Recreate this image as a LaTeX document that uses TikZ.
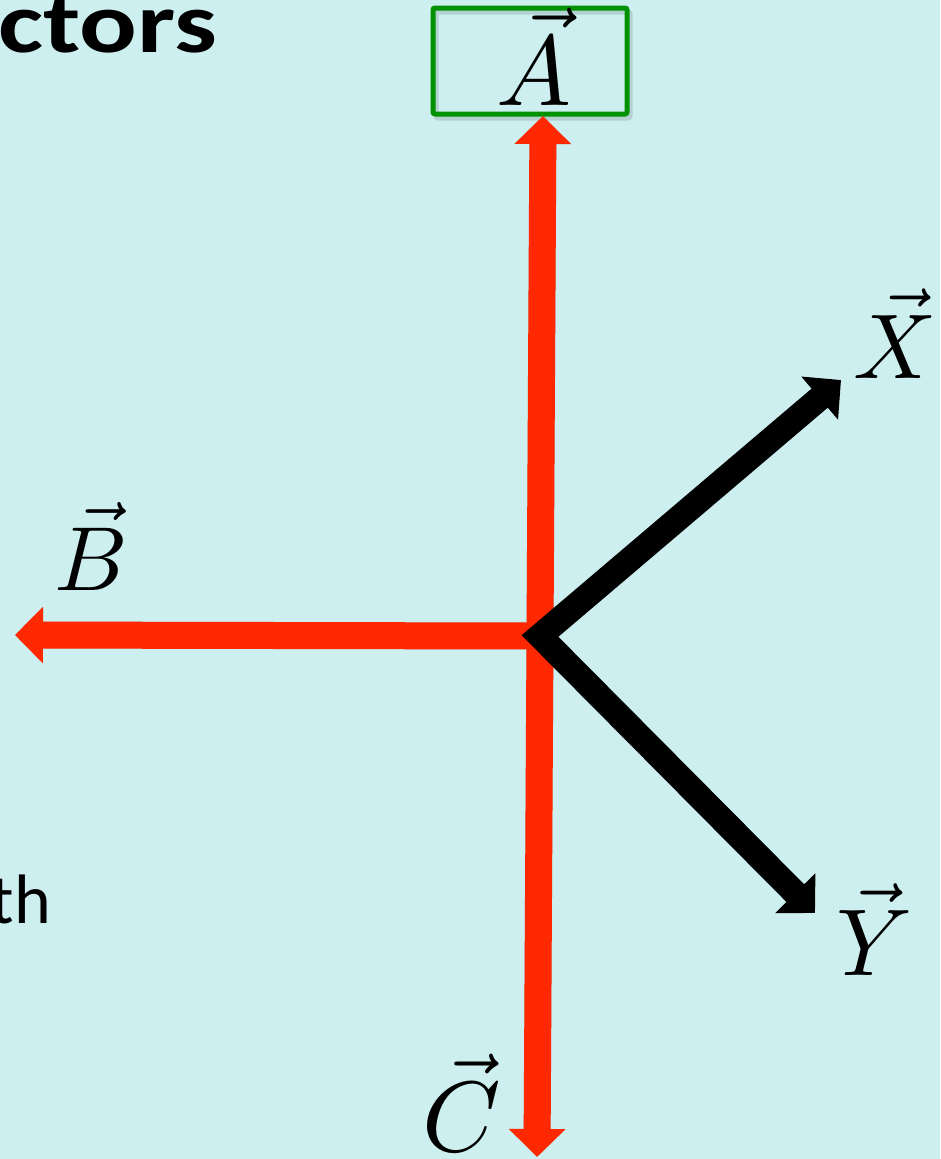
\documentclass[tikz,border=0pt]{standalone}
\usepackage{fontspec}
\newfontfamily\carlito{Carlito}
\usetikzlibrary{arrows.meta}
\definecolor{bgcyan}{RGB}{206,239,240}
\definecolor{vecred}{RGB}{255,40,0}
\definecolor{boxgreen}{RGB}{0,146,0}
\tikzset{
  redarrow/.style={draw=vecred, line width=27pt, -{Triangle[length=28pt,width=55pt]}},
  blackarrow/.style={draw=black, line width=25pt, line join=miter,
    {Triangle[length=28pt,width=55pt]}-{Triangle[length=28pt,width=55pt]}},
  shadowred/.style={draw=black, opacity=0.12, line width=27pt, -{Triangle[length=28pt,width=55pt]}},
  veclabel/.style={inner sep=0pt, anchor=base west},
}
\begin{document}
\begin{tikzpicture}[x=1pt,y=-1pt]
\fill[bgcyan] (0,0) rectangle (940,1159);
\useasboundingbox (0,0) rectangle (940,1159);
% coordinates
\coordinate (O) at (540,636);
\coordinate (tipA) at (543,116);
\coordinate (tipB) at (15,635);
\coordinate (tipC) at (537,1157);
\coordinate (tipX) at (841,380);
\coordinate (tipY) at (815,913);
% shadows
\begin{scope}[shift={(3,4)}]
\draw[shadowred] (O) -- (tipA);
\draw[shadowred] (O) -- (tipB);
\draw[shadowred] (O) -- (tipC);
\draw[black, opacity=0.12, line width=5pt, rounded corners=2pt] (433,8) rectangle (627,114);
\end{scope}
% box
\node[draw=boxgreen, line width=5pt, rounded corners=2pt, minimum width=194pt, minimum height=106pt, inner sep=0pt] (boxA) at (530,61) {};
% red vectors
\draw[redarrow] (O) -- (tipA);
\draw[redarrow] (O) -- (tipB);
\draw[redarrow] (O) -- (tipC);
% black vectors
\draw[blackarrow] (tipX) -- (O) -- (tipY);
% labels
\node[veclabel, scale=10] (labA) at (494,105) {$\vec{A}$};
\node[veclabel, scale=9.1] (labB) at (53,590) {$\vec{B}$};
\node[veclabel, scale=10] (labC) at (420,1151) {$\vec{C}$};
\node[veclabel, scale=9.2] (labX) at (852,378) {$\vec{X}$};
\node[veclabel, scale=9.5] (labY) at (835,975) {$\vec{Y}$};
% text fragments
\node[inner sep=0pt, anchor=base west, xscale=1.25] (title) at (-2,52) {\carlito\bfseries\fontsize{86}{86}\selectfont ctors};
\node[inner sep=0pt, anchor=base east] (th) at (51,923) {\carlito\fontsize{70}{70}\selectfont th};
\end{tikzpicture}
\end{document}
